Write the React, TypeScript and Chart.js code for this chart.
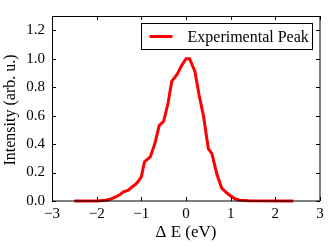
import React, { useEffect, useRef } from "react";
import { Chart, registerables } from "chart.js";

Chart.register(...registerables);

const energies = [
  -2.5, -2.0, -1.8, -1.7, -1.6, -1.5, -1.4, -1.3, -1.2, -1.1, -1.0, -0.93, -0.8, -0.7,
  -0.6, -0.5, -0.4, -0.32, -0.2, -0.1, 0.0, 0.08, 0.2, 0.29, 0.39, 0.5, 0.58, 0.69,
  0.8, 0.9, 1.0, 1.1, 1.2, 1.4, 2.4,
];
const intensities = [
  0, 0, 0.005, 0.012, 0.025, 0.04, 0.065, 0.075, 0.1, 0.125, 0.17, 0.275, 0.31, 0.4,
  0.53, 0.56, 0.69, 0.84, 0.89, 0.95, 1.0, 1.0, 0.91, 0.75, 0.6, 0.367, 0.333, 0.19,
  0.09, 0.06, 0.035, 0.015, 0.005, 0.002, 0,
];
const xTicks = [-3, -2, -1, 0, 1, 2, 3];
const yTicks = [0, 0.2, 0.4, 0.6, 0.8, 1.0, 1.2];
const seriesLabel = "Experimental Peak";
const xTitle = "Δ E (eV)";
const yTitle = "Intensity (arb. u.)";

const FONT = "'Liberation Serif', 'DejaVu Serif', serif";

const frameTicks = {
  id: "frameTicks",
  afterDatasetsDraw(chart: any) {
    const { ctx, chartArea: a, scales } = chart;
    ctx.save();
    ctx.strokeStyle = "#000";
    ctx.lineWidth = 1;
    const L = 4;
    const seg = (x1: number, y1: number, x2: number, y2: number) => {
      ctx.beginPath();
      ctx.moveTo(x1, y1);
      ctx.lineTo(x2, y2);
      ctx.stroke();
    };
    xTicks.forEach((v) => {
      const px = Math.round(scales.x.getPixelForValue(v)) + 0.5;
      seg(px, a.bottom, px, a.bottom - L);
      seg(px, a.top, px, a.top + L);
    });
    yTicks.forEach((v) => {
      const py = Math.round(scales.y.getPixelForValue(v)) + 0.5;
      seg(a.left, py, a.left + L, py);
      seg(a.right, py, a.right - L, py);
    });
    // frame
    seg(a.left + 0.5, a.top, a.left + 0.5, a.bottom);
    seg(a.left, a.top + 0.5, a.right, a.top + 0.5);
    seg(a.right, a.top, a.right, a.bottom);
    seg(a.left, a.bottom, a.right, a.bottom);

    // legend
    const bw = 171;
    const bh = 26;
    const bx = a.right - 7.5 - bw;
    const by = a.top + 7.5;
    ctx.fillStyle = "#fff";
    ctx.fillRect(bx, by, bw, bh);
    ctx.strokeRect(bx, by, bw, bh);
    const ds = chart.data.datasets[0];
    ctx.strokeStyle = ds.borderColor;
    ctx.lineWidth = 3;
    seg(bx + 8, by + bh / 2, bx + 31, by + bh / 2);
    ctx.fillStyle = "#000";
    ctx.font = `16px ${FONT}`;
    ctx.textBaseline = "middle";
    ctx.textAlign = "left";
    ctx.fillText(ds.label, bx + 46, by + bh / 2 + 1);

    // y title
    ctx.save();
    ctx.translate(11, 110);
    ctx.rotate(-Math.PI / 2);
    ctx.font = `16px ${FONT}`;
    ctx.textAlign = "center";
    ctx.textBaseline = "middle";
    ctx.fillText(yTitle, 0, 0);
    ctx.restore();
    ctx.restore();
  },
};

export default function App() {
  const ref = useRef<HTMLCanvasElement>(null);
  useEffect(() => {
    document.body.style.margin = "0";
    const chart = new Chart(ref.current!, {
      type: "line",
      data: {
        datasets: [
          {
            label: seriesLabel,
            data: energies.map((x, i) => ({ x, y: intensities[i] })),
            borderColor: "#ff0000",
            borderWidth: 3,
            pointRadius: 0,
            tension: 0,
            clip: false as any,
          },
        ],
      },
      options: {
        animation: false,
        responsive: false,
        devicePixelRatio: 1,
        layout: { padding: { left: 0, top: 7, right: 12, bottom: 0 } },
        plugins: { legend: { display: false }, tooltip: { enabled: false } },
        scales: {
          x: {
            type: "linear",
            min: -3,
            max: 3,
            afterFit: (s: any) => {
              s.height = 48;
            },
            afterBuildTicks: (s: any) => {
              s.ticks = xTicks.map((v) => ({ value: v }));
            },
            grid: { display: false, drawTicks: false },
            border: { display: false },
            ticks: {
              color: "#000",
              padding: 4,
              maxRotation: 0,
              font: { family: FONT, size: 15 },
              callback: (v: any) => String(v).replace("-", "\u2212"),
            },
            title: {
              display: true,
              text: xTitle,
              color: "#000",
              font: { family: FONT, size: 17 },
              padding: { top: 0, bottom: 6 },
            },
          },
          y: {
            type: "linear",
            min: 0,
            max: 1.3,
            afterFit: (s: any) => {
              s.width = 52;
            },
            afterBuildTicks: (s: any) => {
              s.ticks = yTicks.map((v) => ({ value: v }));
            },
            grid: { display: false, drawTicks: false },
            border: { display: false },
            ticks: {
              color: "#000",
              padding: 7,
              font: { family: FONT, size: 15 },
              callback: (v: any) => Number(v).toFixed(1),
            },
            title: { display: false },
          },
        },
      },
      plugins: [frameTicks],
    });
    return () => chart.destroy();
  }, []);
  return <canvas ref={ref} width={332} height={249} style={{ display: "block" }} />;
}
